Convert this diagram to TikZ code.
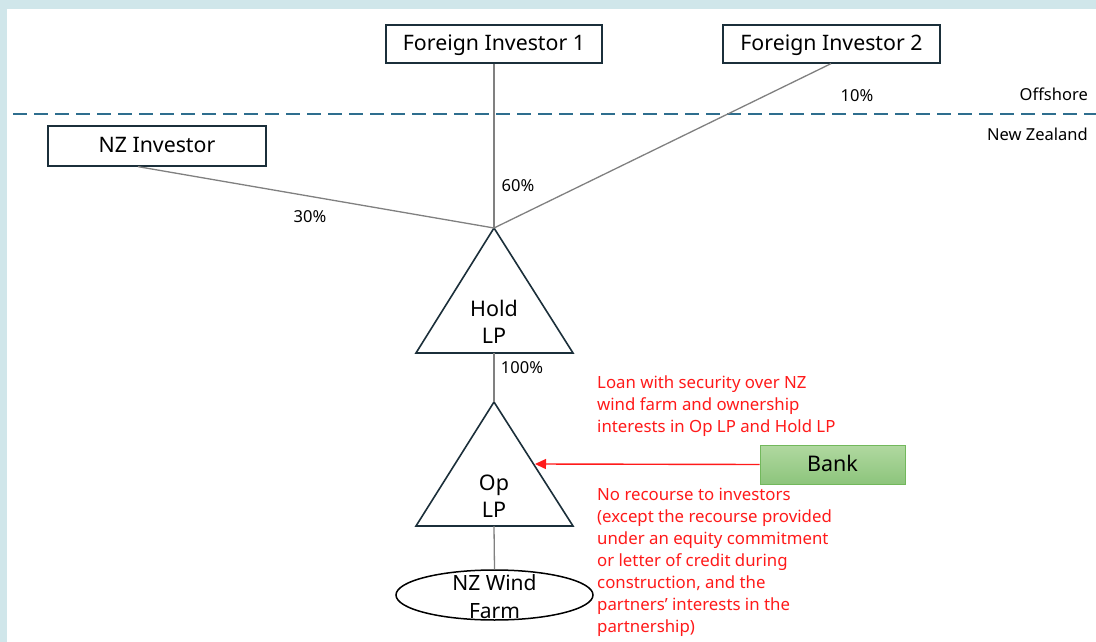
\documentclass[tikz,border=0pt]{standalone}
\usepackage{fontspec}
\setmainfont{Noto Sans}
\usetikzlibrary{arrows.meta,shapes.geometric}
\definecolor{bgblue}{HTML}{D0E6EA}
\definecolor{boxline}{HTML}{1B2F3A}
\definecolor{dashblue}{HTML}{2E6E8E}
\definecolor{conn}{HTML}{808080}
\definecolor{banktop}{HTML}{B0D8A0}
\definecolor{bankbot}{HTML}{8DC57C}
\definecolor{bankline}{HTML}{72B85C}
\definecolor{redtxt}{HTML}{FF1A1A}
\tikzset{
  invbox/.style={draw=boxline, line width=1.3pt, minimum height=38pt, inner sep=0pt, text depth=3pt, font=\fontsize{21.3}{24}\selectfont},
  link/.style={draw=conn, line width=1.3pt},
  tri/.style={draw=boxline, line width=1.6pt, line join=miter},
  pct/.style={font=\fontsize{16.5}{18}\selectfont, inner sep=0pt},
  side/.style={font=\fontsize{16.5}{18}\selectfont, anchor=east, inner sep=0pt},
  redtext/.style={text=redtxt, font=\fontsize{16.8}{22}\selectfont, align=left, inner sep=0pt, anchor=north west},
  lbl/.style={font=\fontsize{21.5}{27}\selectfont, align=center, inner sep=0pt}
}
\begin{document}
\begin{tikzpicture}[x=1pt,y=-1pt]
\fill[bgblue] (0,0) rectangle (1096,642);
\fill[white] (7,9) rectangle (1096,642);
\useasboundingbox (0,0) rectangle (1096,642);
% dashed border line
\draw[dashblue, line width=1.6pt, dash pattern=on 14pt off 7pt] (13,114) -- (1096,114);
\node[side] (offshore) at (1088,94) {Offshore};
\node[side] (nzland) at (1088,134) {New Zealand};
% boxes
\node[invbox, minimum width=216pt] (fi1) at (494,44) {Foreign Investor 1};
\node[invbox, minimum width=217pt] (fi2) at (831.5,44) {Foreign Investor 2};
\node[invbox, minimum width=218pt, minimum height=40pt] (nzi) at (157,146) {NZ Investor};
% Hold LP triangle
\coordinate (hapex) at (494,228);
\coordinate (hleft) at (416,353);
\coordinate (hright) at (573,353);
\coordinate (hbase) at (494,353);
\draw[tri] (hapex) -- (hleft) -- (hright) -- cycle;
\node[lbl] (holdlbl) at (494,322) {Hold\\LP};
% Op LP triangle
\coordinate (oapex) at (494,402);
\coordinate (oleft) at (416,526);
\coordinate (oright) at (573,526);
\coordinate (obase) at (494,526);
\coordinate (oedge) at (535,464);
\draw[tri] (oapex) -- (oleft) -- (oright) -- cycle;
\node[lbl] (oplbl) at (494,496) {Op\\LP};
% wind farm
\node[ellipse, draw=black, line width=1.5pt, minimum width=197pt, minimum height=50pt, inner sep=0pt] (farm) at (494.5,595) {};
\node[lbl, font=\fontsize{21}{28}\selectfont] (farmlbl) at (494.5,597) {NZ Wind\\Farm};
% bank
\node[draw=bankline, top color=banktop, bottom color=bankbot, line width=1pt, minimum width=145pt, minimum height=39pt, inner sep=0pt, text depth=3pt, font=\fontsize{21.5}{24}\selectfont] (bank) at (832.5,464.5) {Bank};
% connectors
\draw[link] (fi1.south) -- (hapex);
\draw[link] ([xshift=-0.5pt]fi2.south) -- (hapex);
\draw[link] ([xshift=-19pt]nzi.south) -- (hapex);
\draw[link] (hbase) -- (oapex);
\draw[link] (obase) -- (farm.north);
\draw[redtxt, line width=1.4pt, -{Triangle[length=11pt,width=10pt]}] (bank.west) -- (oedge);
% percentages
\node[pct] (p60) at (518,186) {60\%};
\node[pct] (p10) at (857,96) {10\%};
\node[pct] (p30) at (310,217) {30\%};
\node[pct] (p100) at (522,368) {100\%};
% red notes
\node[redtext] (loan) at (597,376) {Loan with security over NZ\\wind farm and ownership\\interests in Op LP and Hold LP};
\node[redtext] (norec) at (597,488) {No recourse to investors\\(except the recourse provided\\under an equity commitment\\or letter of credit during\\construction, and the\\partners’ interests in the\\partnership)};
\end{tikzpicture}
\end{document}
